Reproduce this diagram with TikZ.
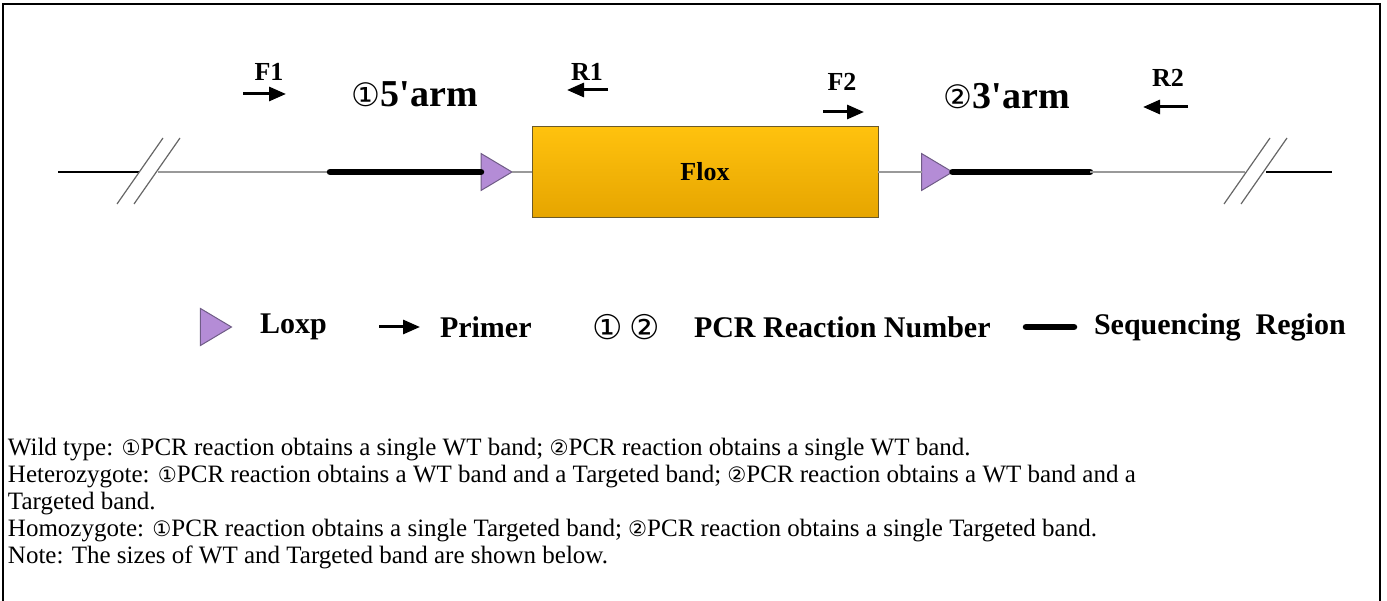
\documentclass[tikz,border=0pt]{standalone}
\usepackage{fontspec}
\setmainfont{Liberation Serif}
\newfontfamily\circfont[Scale=0.85]{DejaVu Sans}
\usetikzlibrary{arrows.meta,positioning,shapes.geometric}
\newcommand{\cnum}[1]{{\circfont\mdseries #1}}
\definecolor{loxpfill}{HTML}{B48CD6}
\definecolor{loxpline}{HTML}{6F5C86}
\definecolor{floxtop}{HTML}{FFC20E}
\definecolor{floxbot}{HTML}{E6A500}
\definecolor{floxline}{HTML}{6B5A2A}

\tikzset{
  every node/.style={inner sep=0pt, outer sep=0pt},
  dna/.style={draw=black!40, line width=2.5pt},
  genome/.style={draw=black, line width=1.6pt},
  seqline/.style={line width=6.5pt, line cap=round},
  cutmark/.style={draw=black!60, line width=1.2pt},
  loxp/.style={isosceles triangle, isosceles triangle stretches, draw=loxpline,
    fill=loxpfill, line width=1pt, minimum height=31pt, minimum width=37pt},
  primer/.style={line width=3pt, -{Triangle[length=17pt,width=14pt]}},
  lbl/.style={font=\fontsize{26}{28}\selectfont\bfseries},
  arm/.style={font=\fontsize{38}{40}\selectfont\bfseries},
  key/.style={font=\fontsize{30}{32}\selectfont\bfseries, anchor=west},
}

\begin{document}
\begin{tikzpicture}[x=1pt, y=-1pt]
  \useasboundingbox (0,0) rectangle (1387,601);
  \draw[line width=1.5pt] (3,601) -- (3,4) -- (1380,4) -- (1380,601);

  % gene map
  \coordinate (lend) at (58,172);
  \coordinate (lcutA) at (139,172);
  \coordinate (lcutB) at (158,172);
  \coordinate (armfs) at (330,172);
  \node[loxp] (loxa) at (491.5,172) {};
  \node[draw=floxline, line width=1pt, top color=floxtop, bottom color=floxbot,
    minimum width=346pt, minimum height=91pt,
    font=\fontsize{26}{28}\selectfont\bfseries] (flox) at (705,172) {Flox};
  \node[loxp] (loxb) at (932,172) {};
  \coordinate (armte) at (1090,172);
  \coordinate (rcutA) at (1245,172);
  \coordinate (rcutB) at (1266,172);
  \coordinate (rend) at (1332,172);

  \draw[genome] (lend) -- (lcutA);
  \draw[dna] (lcutB) -- (armfs);
  \draw[seqline] (armfs) -- (loxa.west);
  \draw[dna] (loxa.apex) -- (flox.west);
  \draw[dna] (flox.east) -- (loxb.west);
  \draw[seqline] (loxb.apex) -- (armte);
  \draw[dna] (armte) -- (rcutA);
  \draw[genome] (rcutB) -- (rend);
  \foreach \dx in {0,17} {
    \draw[cutmark] (117+\dx,204) -- (163+\dx,138);
    \draw[cutmark] (1224+\dx,204) -- (1270+\dx,138);
  }

  % primers
  \node[lbl] (fa) at (269,72) {F1};
  \node[lbl] (ra) at (587,72) {R1};
  \node[lbl] (fb) at (842,82) {F2};
  \node[lbl] (rb) at (1168,78) {R2};
  \draw[primer] (243,94) -- (286,94);
  \draw[primer] (608,90) -- (567,90);
  \draw[primer] (823,112) -- (864,112);
  \draw[primer] (1188,107) -- (1143,107);
  \node[arm] (armf) at (415,94) {\cnum{①}5\textquotesingle arm};
  \node[arm] (armt) at (1007,96) {\cnum{②}3\textquotesingle arm};

  % key
  \node[loxp] (keylox) at (211,327) {};
  \node[key] (keyloxt) at (260,327) {Loxp};
  \draw[primer] (379,327) -- (420,327);
  \node[key] (keyprim) at (440,327) {Primer};
  \node[key, font=\fontsize{40}{42}\selectfont] (keynum) at (592,327) {\cnum{①}\,\cnum{②}};
  \node[key] (keynumt) at (694,327) {PCR Reaction Number};
  \draw[seqline] (1026,327) -- (1074,327);
  \node[key] (keyseq) at (1094,327) {Sequencing\ \ Region};

  % notes
  \node[anchor=base west, align=left, font=\fontsize{25}{27}\selectfont] (notes) at (8,563)
    {Wild type: \cnum{①}PCR reaction obtains a single WT band; \cnum{②}PCR reaction obtains a single WT band.\\
     Heterozygote: \cnum{①}PCR reaction obtains a WT band and a Targeted band; \cnum{②}PCR reaction obtains a WT band and a\\
     Targeted band.\\
     Homozygote: \cnum{①}PCR reaction obtains a single Targeted band; \cnum{②}PCR reaction obtains a single Targeted band.\\
     Note: The sizes of WT and Targeted band are shown below.};
\end{tikzpicture}
\end{document}
